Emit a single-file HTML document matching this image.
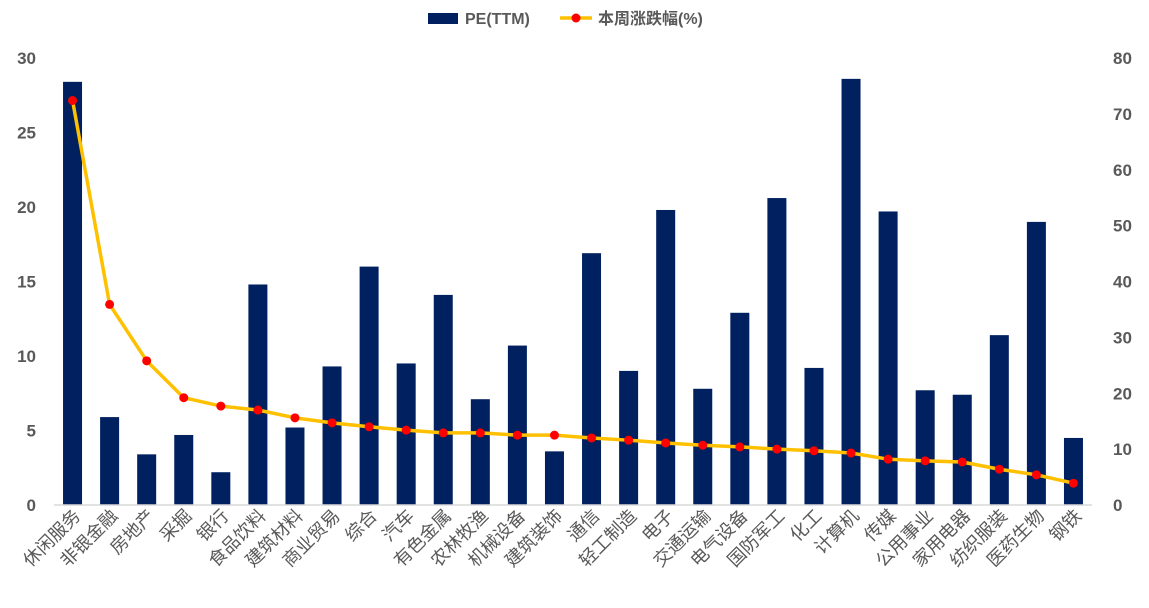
<!DOCTYPE html>
<html><head><meta charset="utf-8"><style>
body{margin:0;background:#fff}
svg text{font-family:"Liberation Sans","Noto Sans CJK SC",sans-serif}
</style></head><body>
<svg id="c" width="1149" height="603" xmlns="http://www.w3.org/2000/svg"></svg>
<script>
const categories=["休闲服务","非银金融","房地产","采掘","银行","食品饮料","建筑材料","商业贸易","综合","汽车","有色金属","农林牧渔","机械设备","建筑装饰","通信","轻工制造","电子","交通运输","电气设备","国防军工","化工","计算机","传媒","公用事业","家用电器","纺织服装","医药生物","钢铁"];
const peValues=[28.4,5.9,3.4,4.7,2.2,14.8,5.2,9.3,16.0,9.5,14.1,7.1,10.7,3.6,16.9,9.0,19.8,7.8,12.9,20.6,9.2,28.6,19.7,7.7,7.4,11.4,19.0,4.5];
const weeklyChange=[72.4,35.9,25.8,19.2,17.7,17.0,15.6,14.7,14.0,13.4,12.9,12.9,12.5,12.5,12.0,11.6,11.1,10.7,10.4,10.0,9.7,9.3,8.2,7.9,7.7,6.4,5.4,3.9];
const leftTicks=[0,5,10,15,20,25,30];
const rightTicks=[0,10,20,30,40,50,60,70,80];

const svg=document.getElementById('c');
const NS='http://www.w3.org/2000/svg';
const X0=54,X1=1092,Y0=505,Y1=58;
const band=(X1-X0)/categories.length;
const xC=i=>X0+band*(i+0.5);
const yL=v=>Y0-(v/30)*(Y0-Y1);
const yR=v=>Y0-(v/80)*(Y0-Y1);
function mk(t,a,p){const e=document.createElementNS(NS,t);for(const k in a)e.setAttribute(k,a[k]);(p||svg).appendChild(e);return e;}

leftTicks.forEach(v=>{const t=mk('text',{x:36,y:yL(v)+6,'text-anchor':'end','font-size':17,'font-weight':'bold',fill:'#595959'});t.textContent=v;

});
rightTicks.forEach(v=>{const t=mk('text',{x:1113,y:yR(v)+6,'font-size':17,'font-weight':'bold',fill:'#595959'});t.textContent=v;

});

peValues.forEach((v,i)=>{const r=mk('rect',{x:xC(i)-9.5,y:yL(v),width:19,height:Y0-yL(v),fill:'#002060'});

});
const ax=mk('line',{x1:X0,x2:X1,y1:Y0,y2:Y0,stroke:'#d9d9d9','stroke-width':1.5});



const pl=mk('polyline',{points:weeklyChange.map((v,i)=>xC(i)+','+yR(v)).join(' '),fill:'none',stroke:'#ffc000','stroke-width':3.5,'stroke-linejoin':'round'});


weeklyChange.forEach((v,i)=>{const c=mk('circle',{cx:xC(i),cy:yR(v),r:4.5,fill:'#ff0000'});

});

categories.forEach((s,i)=>{const x=xC(i)+9,y=517;const t=mk('text',{x:x,y:y,'text-anchor':'end','font-size':18,fill:'#595959',transform:`rotate(-45 ${x} ${y})`});t.textContent=s;

});

const lg=mk('g',{});


mk('rect',{x:428,y:13,width:30,height:11,fill:'#002060'},lg);
const t1=mk('text',{x:465,y:24,'font-size':16,'font-weight':'bold',fill:'#595959'},lg);t1.textContent='PE(TTM)';
mk('line',{x1:560,x2:592,y1:18,y2:18,stroke:'#ffc000','stroke-width':3.5},lg);
mk('circle',{cx:576,cy:18,r:4.5,fill:'#ff0000'},lg);
const t2=mk('text',{x:598,y:24,'font-size':16,'font-weight':'bold',fill:'#595959'},lg);t2.textContent='本周涨跌幅(%)';
</script>
</body></html>
